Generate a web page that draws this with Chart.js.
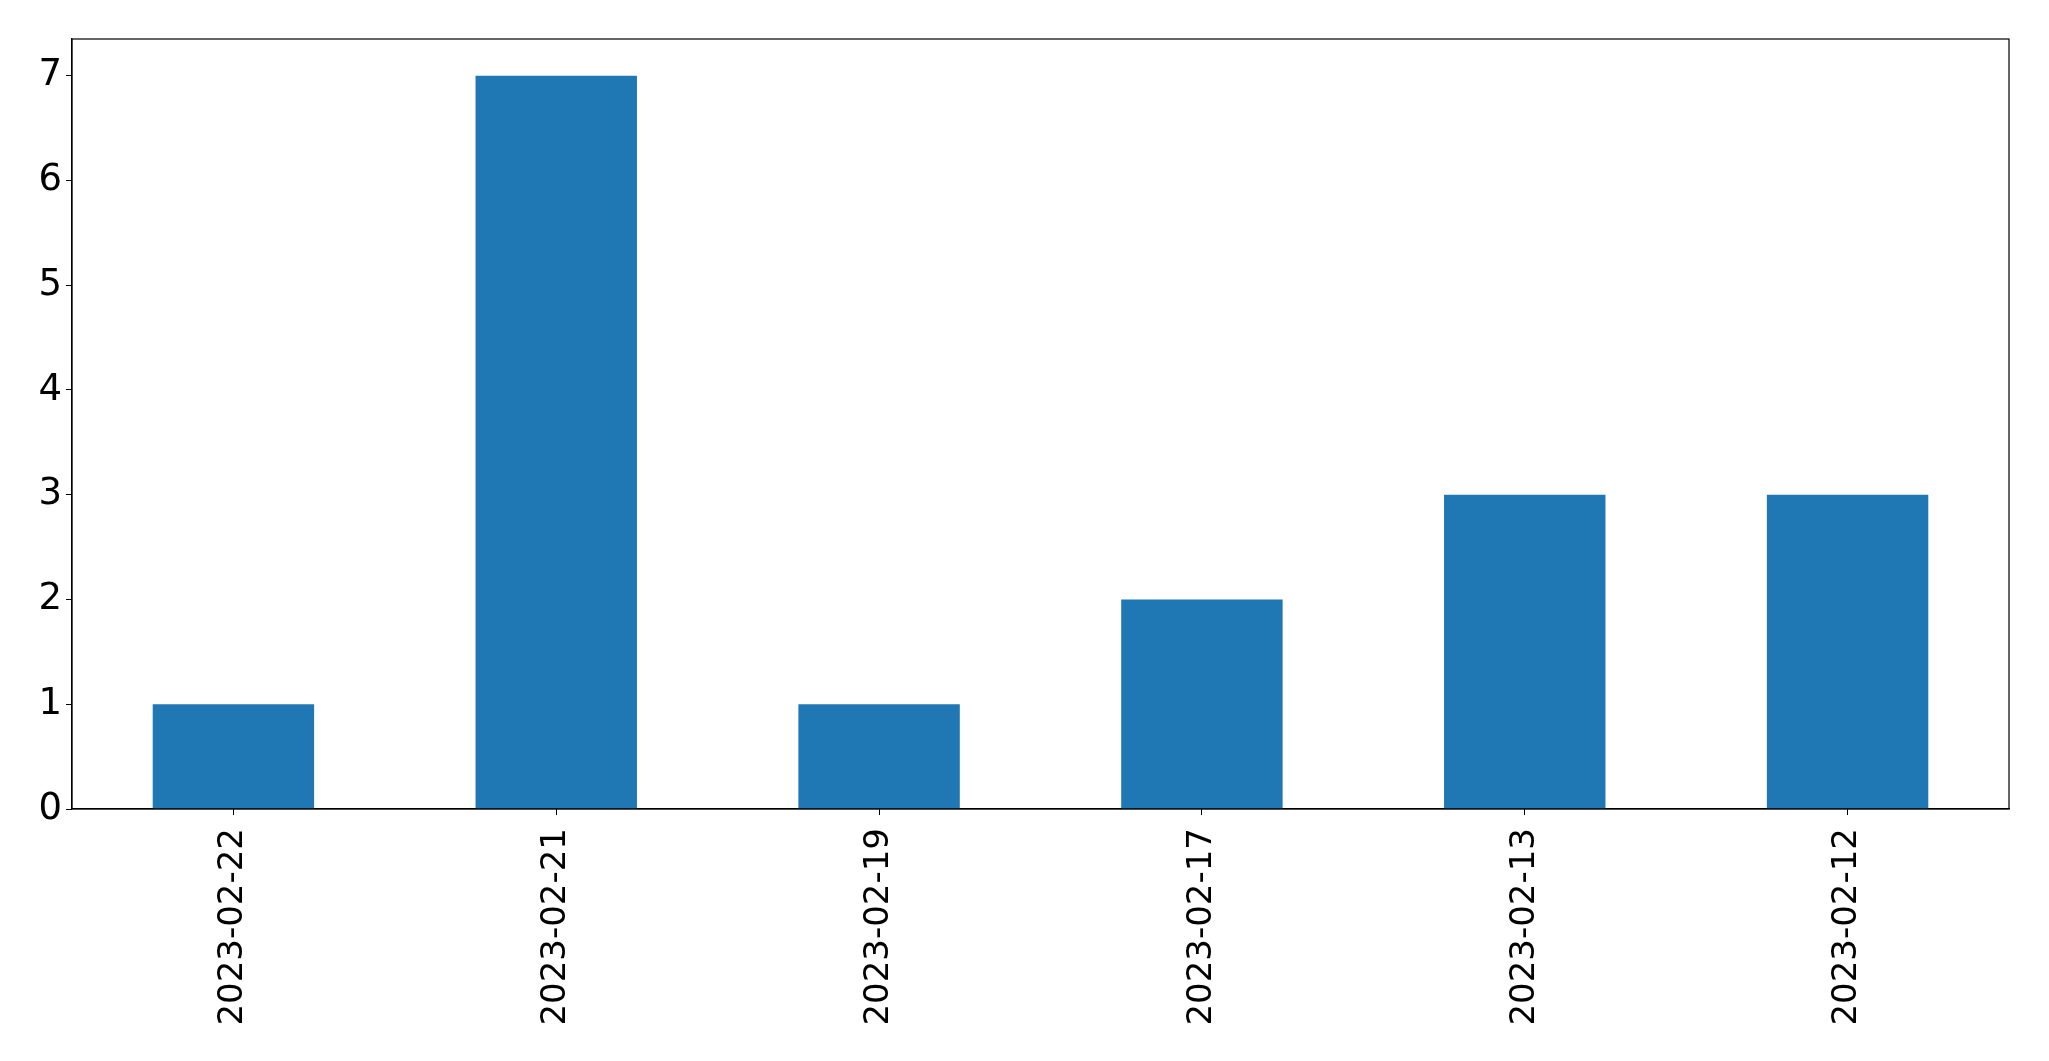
<!DOCTYPE html>
<html>
<head>
<meta charset="utf-8">
<script src="https://cdn.jsdelivr.net/npm/chart.js@4"></script>
<style>
  html, body { margin: 0; padding: 0; background: #fff; }
  canvas { display: block; }
</style>
</head>
<body>
<canvas id="barChart" width="2049" height="1061"></canvas>
<script>
"use strict";

// data
const dates = ["2023-02-22", "2023-02-21", "2023-02-19", "2023-02-17", "2023-02-13", "2023-02-12"];
const counts = [1, 7, 1, 2, 3, 3];
const yTicks = [0, 1, 2, 3, 4, 5, 6, 7];

// top + right spines like matplotlib
const frame = {
  id: "frame",
  afterDraw(chart) {
    const { ctx, chartArea: a } = chart;
    ctx.save();
    ctx.strokeStyle = "#000";
    ctx.lineWidth = 1.2;
    ctx.strokeRect(a.left, a.top, a.right - a.left, a.bottom - a.top);
    ctx.restore();
  },
};

const ctx = document.getElementById("barChart").getContext("2d");
new Chart(ctx, {
  type: "bar",
  data: {
    labels: dates,
    datasets: [
      {
        data: counts,
        backgroundColor: "#1f77b4",
        borderWidth: 0,
        categoryPercentage: 1,
        barPercentage: 0.5,
      },
    ],
  },
  options: {
    responsive: false,
    animation: false,
    devicePixelRatio: 1,
    layout: { padding: { top: 39, right: 40, left: 0, bottom: 0 } },
    plugins: {
      legend: { display: false },
      tooltip: { enabled: false },
    },
    scales: {
      x: {
        type: "category",
        offset: true,
        grid: { display: true, drawOnChartArea: false, drawTicks: true, tickLength: 6, color: "#000", offset: false },
        border: { display: true, color: "#000", width: 1.2 },
        ticks: {
          color: "#000",
          font: { family: "DejaVu Sans", size: 34 },
          minRotation: 90,
          maxRotation: 90,
          padding: 13,
          autoSkip: false,
        },
        afterFit(scale) {
          scale.height = 252;
        },
      },
      y: {
        min: 0,
        max: 7.35,
        grid: { display: true, drawOnChartArea: false, drawTicks: true, tickLength: 6, color: "#000" },
        border: { display: true, color: "#000", width: 1.2 },
        ticks: {
          color: "#000",
          font: { family: "DejaVu Sans", size: 37 },
          padding: 4,
          includeBounds: false,
          stepSize: 1,
        },
        afterBuildTicks(scale) {
          scale.ticks = yTicks.map((v) => ({ value: v }));
        },
        afterFit(scale) {
          scale.width = 72;
        },
      },
    },
  },
  plugins: [frame],
});
</script>
</body>
</html>
